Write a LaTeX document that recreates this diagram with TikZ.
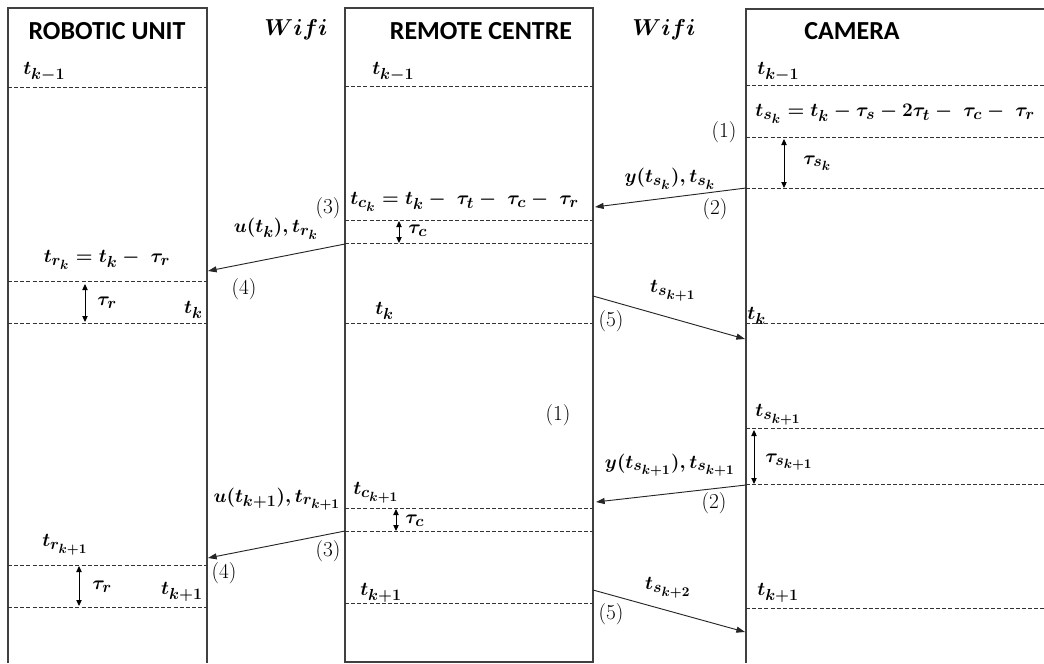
\documentclass[tikz,border=0pt]{standalone}
\usepackage{fontspec}
\usepackage{amsmath}
\newfontfamily\hdrfont{Carlito}
\DeclareMathSizes{15.5}{15.5}{11.6}{9.6}
\DeclareMathSizes{16}{16}{12}{10}
\usetikzlibrary{arrows.meta}
\begin{document}
\begin{tikzpicture}[x=0.75pt,y=-0.75pt,
  boxline/.style={draw=black!75, line width=0.8pt},
  dline/.style={draw=black!80, line width=0.6pt, dash pattern=on 3pt off 1.6pt},
  msg/.style={draw=black!85, line width=0.7pt, -{Triangle[length=6.5pt,width=4.5pt]}},
  dur/.style={draw=black, line width=0.7pt, {Triangle[length=4.5pt,width=4pt]}-{Triangle[length=4.5pt,width=4pt]}},
  hdr/.style={inner sep=0pt, font=\hdrfont\bfseries\fontsize{19.5}{22}\selectfont},
  wifi/.style={inner sep=0pt, font=\fontsize{16}{19}\selectfont\boldmath},
  lbl/.style={inner sep=0pt, font=\fontsize{15.5}{18}\selectfont\boldmath},
  num/.style={inner sep=0pt, font=\fontsize{16}{18}\selectfont}]
\clip (0,0) rectangle (1044,663);
% boxes
\draw[boxline] (8,663) -- (8,8) -- (207,8) -- (207,663);
\draw[boxline] (345,8) rectangle (593,662);
\draw[boxline] (746,663) -- (746,9) -- (1044,9);
% headers
\node[hdr] (hRU) at (107,31) {ROBOTIC UNIT};
\node[hdr] (hRC) at (481,31) {REMOTE CENTRE};
\node[hdr] (hCA) at (852,31) {CAMERA};
\node[wifi] (w1) at (296,30) {$Wifi$};
\node[wifi] (w2) at (664,30) {$Wifi$};
% dashed lines left
\foreach \y in {87,281,323,565,607} \draw[dline] (8,\y) -- (207,\y);
% dashed lines middle
\foreach \y in {86,220,243,323,508,531,603} \draw[dline] (345,\y) -- (593,\y);
% dashed lines right
\foreach \y in {85,137,188,323,428,484,608} \draw[dline] (746,\y) -- (1044,\y);
% left labels
\node[lbl,anchor=west] (Ltk1) at (23,72) {$t_{k-1}$};
\node[lbl] (Ltrk) at (107,260) {$t_{r_k} = t_k -\; \tau_r$};
\node[lbl,anchor=west] (Ltaur1) at (97,303) {$\tau_r$};
\node[lbl,anchor=east] (Ltk) at (203,310) {$t_k$};
\node[lbl,anchor=west] (Ltrk1) at (42,545) {$t_{r_{k+1}}$};
\node[lbl,anchor=west] (Ltaur2) at (92,587) {$\tau_r$};
\node[lbl,anchor=east] (Ltkp1) at (203,592) {$t_{k+1}$};
% middle labels
\node[lbl,anchor=west] (Mtk1) at (372,72) {$t_{k-1}$};
\node[num] (n3a) at (328,208) {(3)};
\node[lbl,anchor=west] (Mtck) at (350,202) {$t_{c_k} = t_k -\; \tau_t -\; \tau_c -\; \tau_r$};
\node[lbl,anchor=west] (Mtauc1) at (408,231) {$\tau_c$};
\node[lbl] (utk) at (276,229) {$u(t_k), t_{r_k}$};
\node[num] (n4a) at (244,289) {(4)};
\node[lbl,anchor=west] (Mtk) at (375,311) {$t_k$};
\node[num] (n5a) at (611,321) {(5)};
\node[lbl] (tsk1) at (673,291) {$t_{s_{k+1}}$};
\node[num] (n1b) at (558,415) {(1)};
\node[lbl] (utk1) at (277,499) {$u(t_{k+1}), t_{r_{k+1}}$};
\node[num] (n3b) at (328,551) {(3)};
\node[num] (n4b) at (224,573) {(4)};
\node[lbl,anchor=west] (Mtck1) at (353,493) {$t_{c_{k+1}}$};
\node[lbl,anchor=west] (Mtauc2) at (405,521) {$\tau_c$};
\node[lbl,anchor=west] (Mtkp1) at (360,593) {$t_{k+1}$};
\node[lbl] (ytsk1) at (670,465) {$y(t_{s_{k+1}}), t_{s_{k+1}}$};
\node[num] (n2b) at (714,503) {(2)};
\node[lbl] (tsk2) at (668,588) {$t_{s_{k+2}}$};
\node[num] (n5b) at (611,614) {(5)};
% right labels
\node[lbl,anchor=west] (Rtk1) at (757,72) {$t_{k-1}$};
\node[lbl,anchor=west] (Rtsk) at (755,114) {$t_{s_k} = t_k - \tau_s - 2\tau_t -\; \tau_c -\; \tau_r$};
\node[num] (n1a) at (724,132) {(1)};
\node[lbl] (ytsk) at (670,179) {$y(t_{s_k}), t_{s_k}$};
\node[num] (n2a) at (715,209) {(2)};
\node[lbl,anchor=west] (Rtausk) at (803,163) {$\tau_{s_k}$};
\node[lbl,anchor=west] (Rtk) at (747,316) {$t_k$};
\node[lbl,anchor=west] (Rtsk1) at (755,415) {$t_{s_{k+1}}$};
\node[lbl,anchor=west] (Rtausk1) at (765,462) {$\tau_{s_{k+1}}$};
\node[lbl,anchor=west] (Rtkp1) at (757,593) {$t_{k+1}$};
% message coordinates
\coordinate (m1s) at (746,188); \coordinate (m1e) at (595,207);
\coordinate (m2s) at (345,244); \coordinate (m2e) at (208,271);
\coordinate (m3s) at (593,296); \coordinate (m3e) at (745,339);
\coordinate (m4s) at (746,485); \coordinate (m4e) at (596,502);
\coordinate (m5s) at (345,531); \coordinate (m5e) at (208,558);
\coordinate (m6s) at (593,590); \coordinate (m6e) at (745,632);
\draw[msg] (m1s) -- (m1e);
\draw[msg] (m2s) -- (m2e);
\draw[msg] (m3s) -- (m3e);
\draw[msg] (m4s) -- (m4e);
\draw[msg] (m5s) -- (m5e);
\draw[msg] (m6s) -- (m6e);
% durations
\coordinate (d1a) at (85,284);  \coordinate (d1b) at (85,322);
\coordinate (d2a) at (399,221); \coordinate (d2b) at (399,243);
\coordinate (d3a) at (784,139); \coordinate (d3b) at (784,188);
\coordinate (d4a) at (754,430); \coordinate (d4b) at (754,484);
\coordinate (d5a) at (79,566);  \coordinate (d5b) at (79,606);
\coordinate (d6a) at (396,509); \coordinate (d6b) at (396,531);
\draw[dur] (d1a) -- (d1b);
\draw[dur] (d2a) -- (d2b);
\draw[dur] (d3a) -- (d3b);
\draw[dur] (d4a) -- (d4b);
\draw[dur] (d5a) -- (d5b);
\draw[dur] (d6a) -- (d6b);
\end{tikzpicture}
\end{document}
